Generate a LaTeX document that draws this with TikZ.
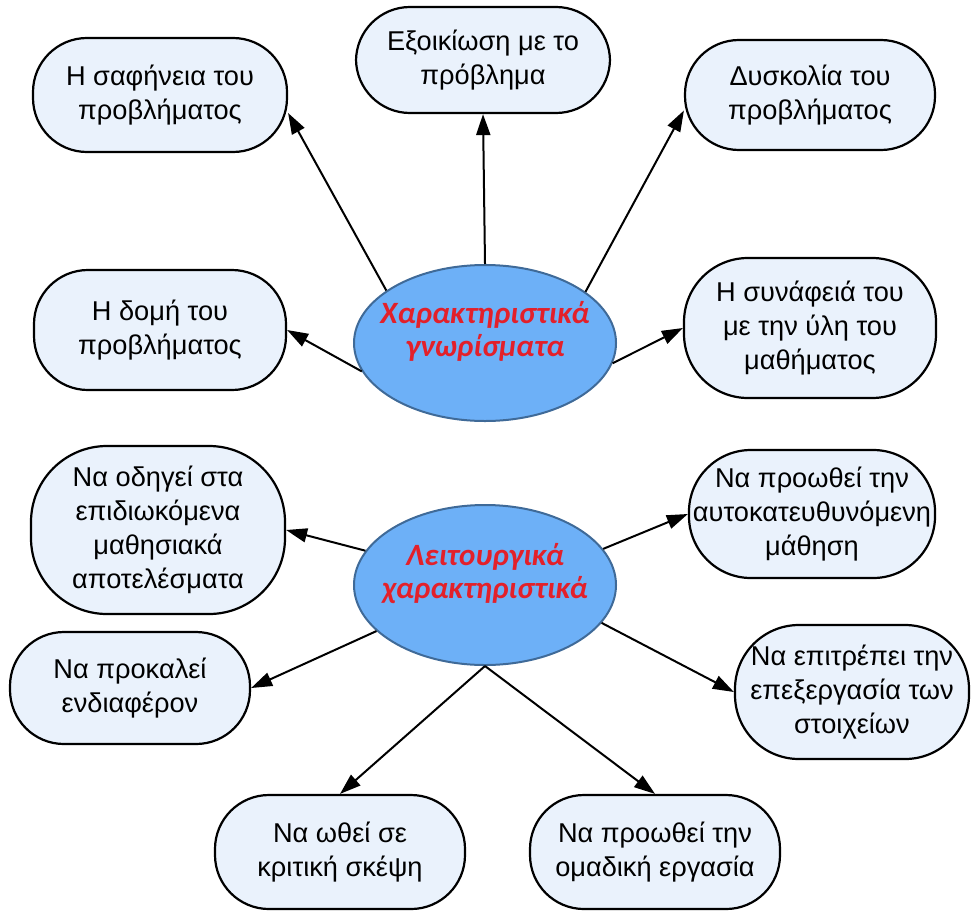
\documentclass[tikz,border=0pt]{standalone}
\usepackage{fontspec}
\setmainfont{Liberation Sans}
\newfontfamily\hubfont{Carlito}
\usetikzlibrary{arrows.meta,shapes.geometric}
\definecolor{boxfill}{HTML}{EAF2FC}
\definecolor{hubfill}{HTML}{6DB0F7}
\definecolor{hubline}{HTML}{3F6A98}
\definecolor{hubred}{HTML}{E3202A}
\begin{document}
\begin{tikzpicture}[x=0.5pt,y=-0.5pt,
  box/.style={draw=black,line width=1.1pt,fill=boxfill,rounded corners=27pt,align=center,inner sep=2pt,font=\fontsize{13.6}{17}\selectfont},
  hub/.style={ellipse,draw=hubline,line width=1pt,fill=hubfill,minimum width=131pt,minimum height=78pt,inner sep=0pt},
  hubtext/.style={align=center,text=hubred,font=\hubfont\bfseries\itshape\fontsize{15.5}{16.5}\selectfont},
  arr/.style={-{Triangle[length=10.5pt,width=7pt]},line width=1pt}]
\useasboundingbox (0,0) rectangle (972,915);

% upper group
\node[hub] (feat) at (485,343) {};
\node[hubtext] (featT) at (485,331) {Χαρακτηριστικά\\γνωρίσματα};

\node[box,minimum width=127pt,minimum height=57pt] (clar) at (160,95) {Η σαφήνεια του\\προβλήματος};
\node[box,minimum width=127pt,minimum height=53pt] (fam) at (483,60) {Εξοικίωση με το\\πρόβλημα};
\node[box,minimum width=125pt,minimum height=55pt] (diff) at (810,95) {Δυσκολία του\\προβλήματος};
\node[box,minimum width=126pt,minimum height=60pt] (struct) at (160,330) {Η δομή του\\προβλήματος};
\node[box,minimum width=126pt,minimum height=70pt,rounded corners=32pt] (rel) at (810,328) {Η συνάφειά του\\με την ύλη του\\μαθήματος};

\draw[arr] (feat.152) -- (clar.-8);
\draw[arr] (feat.north) -- (fam.south);
\draw[arr] (feat.27) -- (diff.187);
\draw[arr] (feat.193) -- (struct.east);
\draw[arr] (feat.351) -- (rel.west);

% lower group
\node[hub,minimum height=80pt] (func) at (485,585) {};
\node[hubtext] (funcT) at (485,574) {Λειτουργικά\\χαρακτηριστικά};

\node[box,minimum width=127pt,minimum height=84pt,rounded corners=38pt] (goal) at (158,530) {Να οδηγεί στα\\επιδιωκόμενα\\μαθησιακά\\αποτελέσματα};
\node[box,minimum width=120pt,minimum height=56pt] (int) at (130,688) {Να προκαλεί\\ενδιαφέρον};
\node[box,minimum width=122pt,minimum height=64pt,rounded corners=31pt] (self) at (812,514) {Να προωθεί την\\αυτοκατευθυνόμενη\\μάθηση};
\node[box,minimum width=117pt,minimum height=67pt,rounded corners=32pt] (proc) at (852,692) {Να επιτρέπει την\\επεξεργασία των\\στοιχείων};
\node[box,minimum width=125pt,minimum height=57pt] (crit) at (340,852) {Να ωθεί σε\\κριτική σκέψη};
\node[box,minimum width=125pt,minimum height=57pt] (team) at (655,852) {Να προωθεί την\\ομαδική εργασία};

\draw[arr] (func.164) -- (goal.east);
\draw[arr] (func.203) -- (int.east);
\draw[arr] (func.17) -- (self.west);
\draw[arr] (func.342) -- (proc.west);
\draw[arr] (func.south) -- (crit.north);
\draw[arr] (func.south) -- (team.north);
\end{tikzpicture}
\end{document}
